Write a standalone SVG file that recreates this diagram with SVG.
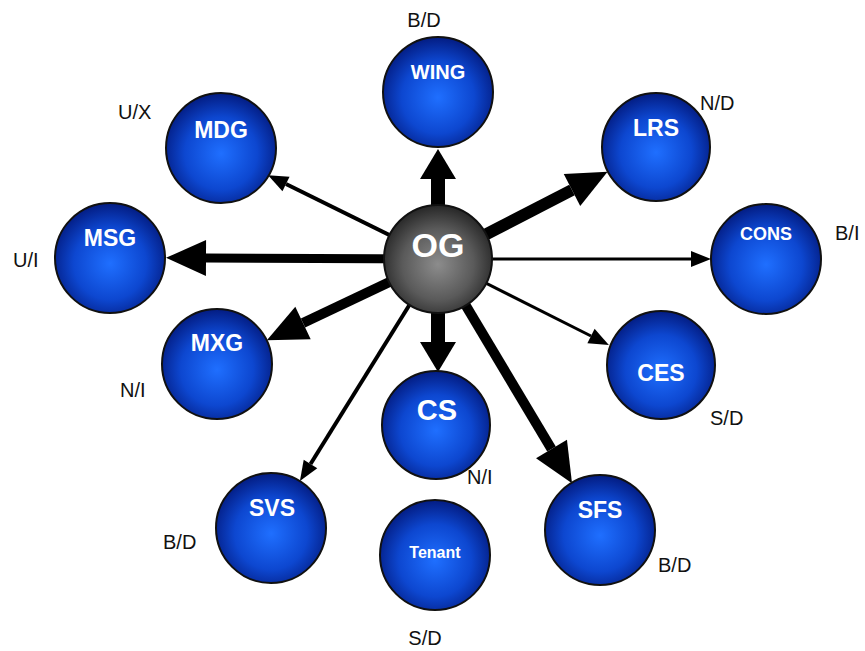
<svg xmlns="http://www.w3.org/2000/svg" width="865" height="651" viewBox="0 0 865 651">
<style>
.bg{fill:#fff}
.node{fill:url(#blue);stroke:#111;stroke-width:2}
.hub{fill:url(#gray);stroke:#111;stroke-width:2}
.nt{font-family:"Liberation Sans",Arial,sans-serif;font-weight:bold;fill:#fff;text-anchor:middle}
.lb{font-family:"Liberation Sans",Arial,sans-serif;font-size:20px;fill:#111}
.c{stroke:#000;fill:none;stroke-linecap:butt}
</style>
<defs>
<radialGradient id="blue" cx="50%" cy="55%" r="55%">
<stop offset="0" stop-color="#1f6fff"/>
<stop offset="0.6" stop-color="#0d47d0"/>
<stop offset="1" stop-color="#031c82"/>
</radialGradient>
<radialGradient id="gray" cx="50%" cy="55%" r="55%">
<stop offset="0" stop-color="#8c8c8c"/>
<stop offset="0.6" stop-color="#5a5a5a"/>
<stop offset="1" stop-color="#262626"/>
</radialGradient>
<marker id="mS" markerUnits="userSpaceOnUse" markerWidth="22" markerHeight="20" refX="0" refY="9" orient="auto" overflow="visible">
<path d="M0,1 L20,9 L0,17 Z" fill="#000"/>
</marker>
<marker id="mM" markerUnits="userSpaceOnUse" markerWidth="32" markerHeight="38" refX="0" refY="18" orient="auto" overflow="visible">
<path d="M0,0 L30,18 L0,36 Z" fill="#000"/>
</marker>
<marker id="mL" markerUnits="userSpaceOnUse" markerWidth="42" markerHeight="38" refX="0" refY="18" orient="auto" overflow="visible">
<path d="M0,0 L40,18 L0,36 Z" fill="#000"/>
</marker>
</defs>
<rect class="bg" x="0" y="0" width="865" height="651"/>
<g id="connectors">
<path class="c" d="M438,259 L438,179" stroke-width="14" marker-end="url(#mM)"/>
<path class="c" d="M438,259 L572,190" stroke-width="12" marker-end="url(#mL)"/>
<path class="c" d="M438,259 L286,184" stroke-width="4" marker-end="url(#mS)"/>
<path class="c" d="M438,259 L206,258" stroke-width="9" marker-end="url(#mL)"/>
<path class="c" d="M438,259 L691,259" stroke-width="3" marker-end="url(#mS)"/>
<path class="c" d="M438,259 L303,323" stroke-width="10" marker-end="url(#mL)"/>
<path class="c" d="M438,259 L591,336" stroke-width="3" marker-end="url(#mS)"/>
<path class="c" d="M438,259 L438,342" stroke-width="14" marker-end="url(#mM)"/>
<path class="c" d="M438,259 L310.5,464" stroke-width="4" marker-end="url(#mS)"/>
<path class="c" d="M438,259 L551.5,449" stroke-width="10" marker-end="url(#mL)"/>
</g>
<g id="WING"><circle class="node" cx="438" cy="92" r="55"/><text class="nt" x="438" y="79" font-size="20">WING</text><text class="lb" x="424" y="27" text-anchor="middle">B/D</text></g>
<g id="MDG"><circle class="node" cx="221" cy="148" r="55"/><text class="nt" x="221" y="138" font-size="23">MDG</text><text class="lb" x="118" y="119">U/X</text></g>
<g id="LRS"><circle class="node" cx="656" cy="147" r="54"/><text class="nt" x="656" y="136" font-size="23">LRS</text><text class="lb" x="700" y="110">N/D</text></g>
<g id="MSG"><circle class="node" cx="110" cy="258" r="55"/><text class="nt" x="110" y="246" font-size="23">MSG</text><text class="lb" x="13" y="267">U/I</text></g>
<g id="CONS"><circle class="node" cx="766" cy="259" r="55"/><text class="nt" x="766" y="240" font-size="18">CONS</text><text class="lb" x="835" y="240">B/I</text></g>
<g id="MXG"><circle class="node" cx="217" cy="364" r="55"/><text class="nt" x="217" y="351" font-size="23">MXG</text><text class="lb" x="120" y="397">N/I</text></g>
<g id="CES"><circle class="node" cx="661" cy="365" r="54"/><text class="nt" x="661" y="381" font-size="23">CES</text><text class="lb" x="710" y="425">S/D</text></g>
<g id="CS"><circle class="node" cx="436" cy="425" r="54"/><text class="nt" x="437" y="420" font-size="29">CS</text><text class="lb" x="467" y="484">N/I</text></g>
<g id="SVS"><circle class="node" cx="271" cy="528" r="55"/><text class="nt" x="272" y="516" font-size="23">SVS</text><text class="lb" x="163" y="549">B/D</text></g>
<g id="Tenant"><circle class="node" cx="435" cy="555" r="55"/><text class="nt" x="435" y="558" font-size="16">Tenant</text><text class="lb" x="425" y="645" text-anchor="middle">S/D</text></g>
<g id="SFS"><circle class="node" cx="600" cy="530" r="55"/><text class="nt" x="600" y="518" font-size="23">SFS</text><text class="lb" x="658" y="572">B/D</text></g>
<g id="OG"><circle class="hub" cx="438" cy="259" r="54"/><text class="nt" x="438" y="257" font-size="34">OG</text></g>
</svg>
